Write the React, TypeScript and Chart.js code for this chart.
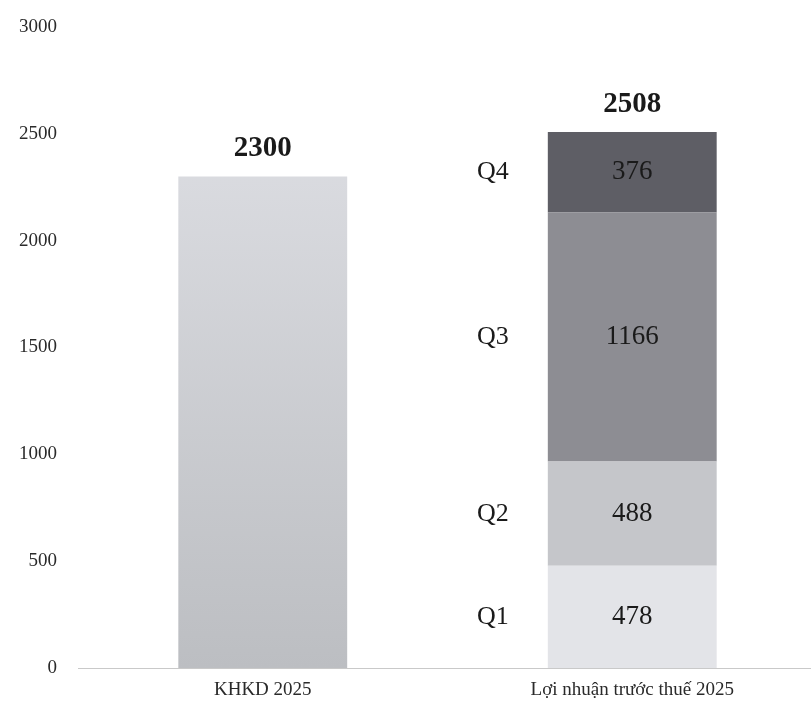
import React, { useEffect, useRef } from "react";
import { Chart, registerables } from "chart.js";

Chart.register(...registerables);

const categories = ["KHKD 2025", "Lợi nhuận trước thuế 2025"];
const planValue = [2300, null];
const quarterLabels = ["Q1", "Q2", "Q3", "Q4"];
const quarterValues = [478, 488, 1166, 376];
const quarterColors = ["#e3e4e8", "#c5c6ca", "#8d8d93", "#5e5e65"];
const totals = [2300, 2508];
const yTicks = [0, 500, 1000, 1500, 2000, 2500, 3000];

const FONT = "'Liberation Serif', 'Times New Roman', serif";

const labelPlugin = {
  id: "labelPlugin",
  afterDatasetsDraw(chart: any) {
    const ctx = chart.ctx;
    const x = chart.scales.x;
    const y = chart.scales.y;
    ctx.save();
    ctx.textAlign = "center";
    ctx.textBaseline = "middle";
    ctx.font = `bold 29px ${FONT}`;
    ctx.fillStyle = "#1a1a1a";
    totals.forEach((t, i) => {
      ctx.fillText(String(t), x.getPixelForValue(i), y.getPixelForValue(t) - 28);
    });
    let base = 0;
    const meta = chart.getDatasetMeta(1);
    const bar = meta.data[1];
    const half = bar ? bar.width / 2 : 85;
    const cx = x.getPixelForValue(1);
    quarterValues.forEach((v, i) => {
      const mid = y.getPixelForValue(base + v / 2);
      ctx.fillStyle = "#1a1a1a";
      ctx.font = `27px ${FONT}`;
      ctx.fillText(String(v), cx, mid);
      ctx.font = `26px ${FONT}`;
      ctx.fillText(quarterLabels[i], cx - half - 55, mid);
      base += v;
    });
    ctx.restore();
  },
};

export default function App() {
  const ref = useRef<HTMLCanvasElement>(null);
  useEffect(() => {
    if (!ref.current) return;
    const datasets: any[] = [
      {
        label: "KHKD",
        data: planValue,
        backgroundColor: (c: any) => {
          const area = c.chart.chartArea;
          if (!area) return "#cfd0d4";
          const g = c.chart.ctx.createLinearGradient(0, area.top, 0, area.bottom);
          g.addColorStop(0, "#e2e3e8");
          g.addColorStop(1, "#bcbec2");
          return g;
        },
        stack: "s",
      },
      ...quarterValues.map((v, i) => ({
        label: quarterLabels[i],
        data: [null, v],
        backgroundColor: quarterColors[i],
        stack: "s",
      })),
    ];
    const chart = new Chart(ref.current, {
      type: "bar",
      data: { labels: categories, datasets },
      options: {
        animation: false,
        responsive: false,
        layout: { padding: { top: 27, left: 0, right: 0, bottom: 0 } },
        datasets: { bar: { barPercentage: 0.457, categoryPercentage: 1 } },
        plugins: { legend: { display: false }, tooltip: { enabled: false } },
        scales: {
          x: {
            stacked: true,
            grid: { display: false },
            border: { display: true, color: "#c9c9c9", width: 1 },
            ticks: { font: { family: FONT, size: 19 }, color: "#2a2a2a", padding: 3 },
            afterFit: (s: any) => { s.height = 33; },
          },
          y: {
            stacked: true,
            min: 0,
            max: 3000,
            afterBuildTicks: (s: any) => { s.ticks = yTicks.map((v) => ({ value: v })); },
            grid: { display: false },
            border: { display: false },
            ticks: {
              font: { family: FONT, size: 19 },
              color: "#2a2a2a",
              padding: 13,
              callback: (v: any) => String(v),
            },
            afterFit: (s: any) => { s.width = 78; },
          },
        },
      },
      plugins: [labelPlugin],
    });
    return () => chart.destroy();
  }, []);
  return (
    <div style={{ position: "absolute", left: 0, top: 0, width: 811, height: 701, overflow: "hidden", background: "#fff" }}>
      <canvas ref={ref} width={817} height={701} style={{ display: "block" }} />
    </div>
  );
}
